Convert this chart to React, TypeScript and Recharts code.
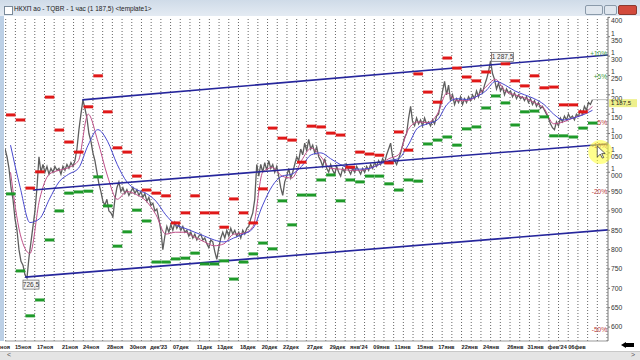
import React from 'react';
import { ComposedChart, Line, Scatter, XAxis, YAxis, ReferenceLine, ReferenceDot } from 'recharts';

// hourly closes, one value every 3 bars
const startDay = 0.93;
const barStep = 0.206;
const closes = [
  1060, 1040, 1010, 960, 930, 880, 850, 800, 770, 760,
  735, 726.5, 780, 820, 860, 900, 960, 1040, 1000, 1020,
  1000, 1015, 995, 1010, 1000, 1015, 1005, 1010, 995, 1015,
  1005, 1020, 1010, 1025, 1015, 1030, 1060, 1110, 1150, 1187,
  1165, 1140, 1100, 1080, 1050, 1030, 1000, 970, 950, 925,
  915, 930, 900, 895, 885, 930, 960, 975, 950, 960,
  945, 955, 940, 950, 960, 945, 955, 940, 950, 935,
  945, 925, 935, 915, 920, 900, 905, 880, 850, 800,
  835, 860, 845, 865, 850, 870, 855, 865, 850, 860,
  845, 850, 835, 845, 830, 840, 825, 835, 840, 825,
  830, 815, 805, 825, 820, 795, 775, 805, 830, 845,
  830, 850, 835, 855, 840, 850, 835, 845, 830, 850,
  840, 855, 860, 880, 895, 930, 1020, 990, 1020, 1000,
  1025, 1005, 1030, 1010, 1020, 1000, 1015, 990, 960, 940,
  975, 990, 1010, 985, 1000, 1020, 1040, 1030, 1060, 1045,
  1075, 1055, 1085, 1060, 1070, 1050, 1065, 1040, 1030, 1015,
  1035, 1010, 1000, 1020, 1005, 995, 1015, 1000, 990, 1010,
  1000, 1020, 1005, 995, 1010, 1000, 1015, 1005, 995, 1010,
  1000, 1015, 1005, 1020, 1010, 1025, 1015, 1030, 1020, 1035,
  1025, 1045, 1060, 1075, 1040, 1030, 1020, 1035, 1050, 1070,
  1090, 1100, 1140, 1170, 1130, 1120, 1140, 1125, 1135, 1120,
  1140, 1125, 1130, 1120, 1135, 1125, 1145, 1150, 1180, 1210,
  1235, 1200, 1225, 1185, 1200, 1175, 1190, 1180, 1195, 1175,
  1190, 1180, 1195, 1185, 1200, 1190, 1210, 1195, 1215, 1205,
  1225, 1240, 1260, 1287.5, 1255, 1240, 1215, 1230, 1210, 1220,
  1200, 1215, 1205, 1210, 1195, 1205, 1190, 1200, 1190, 1195,
  1185, 1195, 1180, 1190, 1175, 1185, 1170, 1180, 1165, 1170,
  1160, 1150, 1140, 1125, 1115, 1110, 1130, 1120, 1140, 1130,
  1145, 1135, 1150, 1140, 1145, 1135, 1150, 1145, 1160, 1150,
  1170, 1160, 1180, 1175, 1187.5,
];

// daily levels, from day 1
const resistance = [
  1148, 1135, 959, 1001, 1194, 1109, 1078, 1052, 1169, 1249,
  1156, 1063, 1052, 990, 954, 946, 939, 869, 895, 939,
  895, 895, 858, 931, 895, 869, 957, 1114, 1088, 1083,
  1026, 1119, 1117, 1101, 1096, 1013, 1052, 1047, 1044, 1024,
  1104, 1057, 1254, 1207, 1181, 1295, 1269, 1246, 1236, 1259,
  1300, 1280, 1236, 1223, 1249, 1218, 1220, 1174, 1174, 1156,
];
const support = [
  944, 745, 629, 670, 825, 900, 946, 949, 951, 988,
  913, 809, 846, 902, 874, 768, 768, 776, 778, 791,
  763, 763, 771, 724, 768, 789, 817, 802, 926, 864,
  941, 941, 980, 993, 926, 980, 975, 990, 990, 970,
  954, 980, 977, 1073, 1083, 1091, 1070, 1112, 1117, 1166,
  1197, 1179, 1122, 1156, 1158, 1143, 1094, 1094, 1091, 1114, 1127,
];

const maSlow = [
  1070, 960, 870, 880, 930, 975, 995, 1010, 1070, 1110,
  1080, 1020, 975, 955, 945, 925, 890, 865, 855, 845,
  835, 825, 820, 830, 840, 855, 915, 965, 990, 995,
  1015, 1045, 1050, 1035, 1020, 1010, 1008, 1010, 1020, 1030,
  1035, 1070, 1115, 1125, 1135, 1175, 1190, 1188, 1195, 1210,
  1235, 1225, 1210, 1200, 1190, 1175, 1150, 1135, 1140, 1148, 1160,
];
const maFast = [
  1000, 840, 790, 930, 995, 1005, 1012, 1030, 1150, 1080,
  990, 930, 950, 942, 925, 890, 840, 845, 845, 832,
  820, 810, 815, 840, 842, 860, 1000, 1012, 990, 985,
  1030, 1062, 1040, 1010, 1008, 1005, 1005, 1010, 1020, 1035,
  1045, 1110, 1130, 1128, 1150, 1205, 1185, 1185, 1195, 1220,
  1240, 1210, 1200, 1192, 1180, 1165, 1125, 1130, 1140, 1150, 1170,
];

const channelUpper = [{ x: 8.9, y: 1187 }, { x: 63.1, y: 1303 }];
const channelMiddle = [{ x: 3.8, y: 954 }, { x: 63.1, y: 1073 }];
const channelLower = [{ x: 3.0, y: 729 }, { x: 63.1, y: 851 }];

const tickLabels = [
  'ноя', '15ноя', '17ноя', '21ноя', '24ноя', '28ноя', '30ноя', 'дек\'23', '07дек', '11дек', '13дек',
  '18дек', '20дек', '22дек', '27дек', '29дек', 'янв\'24', '09янв', '11янв', '15янв', '17янв',
  '22янв', '24янв', '26янв', '31янв', 'фев\'24', '06фев',
];
const tickDays = [
  0.93, 1.96, 4.23, 6.8, 8.97, 11.44, 13.8, 15.9, 18.25, 20.7, 22.8,
  25.15, 27.4, 29.6, 32.06, 34.4, 36.5, 38.9, 41.1, 43.4, 45.6,
  48.0, 50.2, 52.7, 54.8, 56.9, 59.0,
];
const priceTicks = [600, 650, 700, 750, 800, 850, 900, 950, 1000, 1050, 1100, 1150, 1200, 1250, 1300, 1350, 1400];

const lastPrice = 1187.5;
const pctLevels = [10, 5, -5, -10, -20, -50];
const gridDays = Array.from({ length: 63 }, (_, i) => i + 1);

const pricePoints = closes.map((y, i) => ({ x: startDay + i * barStep, y }));
const resPoints = resistance.map((y, i) => ({ x: i + 1.5, y }));
const supPoints = support.map((y, i) => ({ x: i + 1.5, y }));
const slowPoints = maSlow.map((y, i) => ({ x: i + 1.5, y }));
const fastPoints = maFast.map((y, i) => ({ x: i + 1.5, y }));

const hiIdx = closes.indexOf(Math.max(...closes));
const loIdx = closes.indexOf(Math.min(...closes));

const font = '"Liberation Sans", Arial, sans-serif';

const fmtPrice = (v: number) =>
  v >= 1000 ? `${Math.floor(v / 1000)} ${String(v % 1000).padStart(3, '0')}` : String(v);
const fmtComma = (v: number) => fmtPrice(Math.floor(v)) + ',' + String(Math.round((v % 1) * 10));

const XTick = (props: any) => {
  const { x, y, payload } = props;
  const first = payload.index === 0;
  return (
    <text
      x={first ? x - 5 : x}
      y={y + 8}
      fontSize={5.6}
      fontWeight="bold"
      fill="#222"
      fontFamily={font}
      textAnchor="start"
    >
      {tickLabels[payload.index]}
    </text>
  );
};

const PriceTag = (props: any) => {
  const { x, y, width } = props.viewBox;
  const left = x + width + 1;
  return (
    <g>
      <rect x={left} y={y - 0.5} width={28} height={8} fill="#eef08c" />
      <text x={left + 2} y={y + 5.8} fontSize={6} fill="#222" fontFamily={font}>
        {fmtComma(lastPrice)}
      </text>
    </g>
  );
};

const PctLabel = (text: string, color: string) => (props: any) => {
  const { x, y, width } = props.viewBox;
  return (
    <text x={x + width - 1} y={y + 2.5} fontSize={6.5} fill={color} textAnchor="end" fontFamily={font}>
      {text}
    </text>
  );
};

const HighTag = (props: any) => (
  <g>
    <rect x={props.cx + 1} y={props.cy - 8.5} width={22} height={9} fill="#f4f4f4" stroke="#666" strokeWidth={0.7} />
    <text x={props.cx + 12} y={props.cy - 1.8} fontSize={6.5} fill="#333" textAnchor="middle" fontFamily={font}>
      {fmtComma(closes[hiIdx])}
    </text>
  </g>
);

const LowTag = (props: any) => (
  <g>
    <rect x={props.cx - 4} y={props.cy + 2} width={16} height={9} fill="#f4f4f4" stroke="#666" strokeWidth={0.7} />
    <text x={props.cx + 4} y={props.cy + 8.7} fontSize={6.5} fill="#333" textAnchor="middle" fontFamily={font}>
      {fmtComma(closes[loIdx])}
    </text>
  </g>
);

const Cursor = (props: any) => {
  const { cx, cy } = props;
  return (
    <g>
      <circle cx={cx} cy={cy} r={12} fill="#ffff30" fillOpacity={0.55} />
      <path
        d={`M${cx - 3} ${cy - 6} L${cx - 3} ${cy + 5} L${cx} ${cy + 2} L${cx + 2} ${cy + 6} L${cx + 3.5} ${cy + 5.5} L${cx + 1.5} ${cy + 1.5} L${cx + 5} ${cy + 1.5} Z`}
        fill="#fff"
        stroke="#222"
        strokeWidth={0.7}
      />
    </g>
  );
};

export default function App() {
  return (
    <div style={{ position: 'fixed', left: 0, top: 0, width: 640, height: 360, background: '#fff', overflow: 'hidden', fontFamily: font }}>
      <ComposedChart
        width={640}
        height={360}
        margin={{ top: 17, right: 0, bottom: 0, left: 5 }}
        style={{ position: 'absolute', left: 0, top: 0 }}
      >
        <XAxis
          dataKey="x"
          type="number"
          domain={[0.93, 63.1]}
          allowDataOverflow
          ticks={tickDays}
          interval={0}
          height={19}
          tickSize={0}
          tickMargin={0}
          tick={<XTick />}
          axisLine={{ stroke: '#999' }}
        />
        <YAxis
          orientation="right"
          type="number"
          domain={[564, 1401]}
          allowDataOverflow
          ticks={priceTicks}
          interval={0}
          width={32}
          tickSize={2}
          tickMargin={1}
          tickFormatter={fmtPrice}
          tick={{ fontSize: 6.8, fill: '#333', fontFamily: font }}
          axisLine={{ stroke: '#777' }}
          tickLine={{ stroke: '#777' }}
        />
        {gridDays.map((d) => (
          <ReferenceLine key={d} x={d} stroke="#666" strokeDasharray="1 2" strokeWidth={1} />
        ))}
        <Scatter
          data={resPoints}
          dataKey="y"
          isAnimationActive={false}
          shape={(p: any) => <rect x={p.cx - 4.5} y={p.cy - 1.5} width={9.5} height={3} fill="#e01818" />}
        />
        <Scatter
          data={supPoints}
          dataKey="y"
          isAnimationActive={false}
          shape={(p: any) => <rect x={p.cx - 4.5} y={p.cy - 1.5} width={9.5} height={3} fill="#1f9a2a" />}
        />
        <Line data={pricePoints} dataKey="y" type="linear" stroke="#5e5e5e" strokeWidth={1.3} dot={false} isAnimationActive={false} />
        <Line data={fastPoints} dataKey="y" type="monotone" stroke="#c0508a" strokeWidth={1} dot={false} isAnimationActive={false} />
        <Line data={slowPoints} dataKey="y" type="monotone" stroke="#4848d0" strokeWidth={1} dot={false} isAnimationActive={false} />
        <Line data={channelUpper} dataKey="y" type="linear" stroke="#26269c" strokeWidth={1.6} dot={false} isAnimationActive={false} />
        <Line data={channelMiddle} dataKey="y" type="linear" stroke="#26269c" strokeWidth={1.6} dot={false} isAnimationActive={false} />
        <Line data={channelLower} dataKey="y" type="linear" stroke="#26269c" strokeWidth={1.6} dot={false} isAnimationActive={false} />
        {pctLevels.map((p) => (
          <ReferenceLine
            key={p}
            y={lastPrice * (1 + p / 100)}
            stroke="none"
            label={PctLabel(`${p > 0 ? '+' : ''}${p}%`, p > 0 ? '#3c9a3c' : '#b83a3a')}
          />
        ))}
        <ReferenceLine
          segment={[{ x: startDay + (closes.length - 1) * barStep, y: lastPrice }, { x: 63.1, y: lastPrice }]}
          stroke="#aaa"
          strokeWidth={0.8}
        />
        <ReferenceLine y={lastPrice} stroke="none" label={PriceTag} />
        <ReferenceDot x={startDay + hiIdx * barStep} y={closes[hiIdx]} r={0} shape={HighTag} />
        <ReferenceDot x={startDay + loIdx * barStep} y={closes[loIdx]} r={0} shape={LowTag} />
        <ReferenceDot x={62.3} y={1052} r={12} shape={Cursor} />
      </ComposedChart>

      {/* window chrome */}
      <div style={{ position: 'absolute', left: 0, top: 0, width: 640, height: 16, background: 'linear-gradient(#cfdbe8, #e4ebf3)' }} />
      <div style={{ position: 'absolute', left: 4, top: 6, width: 7, height: 7, background: '#fff', border: '1px solid #7a8a9a' }} />
      <div style={{ position: 'absolute', left: 14, top: 5, fontSize: 6.5, color: '#222', whiteSpace: 'nowrap' }}>
        НКХП ао - TQBR - 1 час (1 187,5) &lt;template1&gt;
      </div>
      <div style={{ position: 'absolute', left: 585, top: 5, width: 16, height: 8, background: '#dfe6ee', border: '1px solid #8a9aaa', borderRadius: 2 }} />
      <div style={{ position: 'absolute', left: 604, top: 5, width: 11, height: 8, background: '#dfe6ee', border: '1px solid #8a9aaa', borderRadius: 2 }} />
      <div style={{ position: 'absolute', left: 618, top: 5, width: 17, height: 8, background: '#d24a3c', border: '1px solid #8a3a30', borderRadius: 2 }} />
      <div style={{ position: 'absolute', left: 0, top: 16, width: 4, height: 325, background: '#bcd0e6' }} />
      <div style={{ position: 'absolute', left: 0, top: 351, width: 640, height: 9, background: '#e4e4e4', borderTop: '1px solid #c8c8c8' }} />
      <div style={{ position: 'absolute', left: 7, top: 351, fontSize: 7, color: '#555' }}>&lt;</div>
      <div style={{ position: 'absolute', left: 631, top: 351, fontSize: 7, color: '#555' }}>&gt;</div>
      <div style={{ position: 'absolute', left: 621, top: 342, width: 0, height: 0, borderTop: '3px solid transparent', borderBottom: '3px solid transparent', borderRight: '5px solid #000' }} />
      <div style={{ position: 'absolute', left: 625, top: 343, width: 9, height: 4, background: '#000' }} />
    </div>
  );
}
